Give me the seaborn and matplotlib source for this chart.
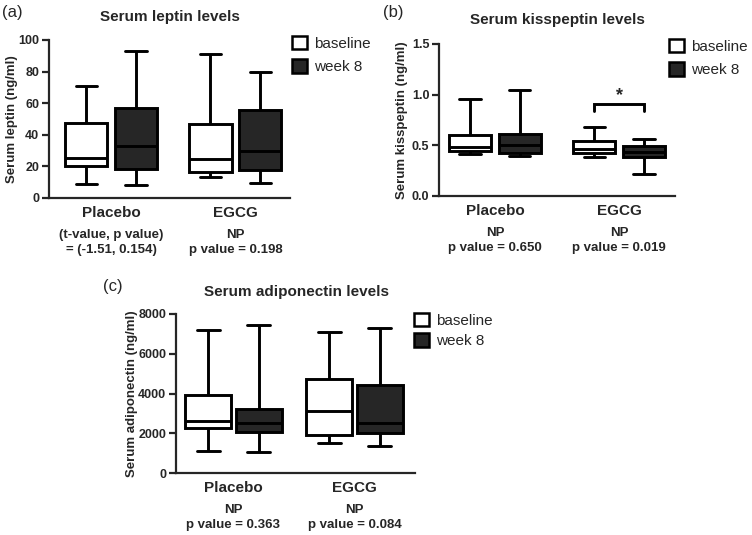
import numpy as np
import pandas as pd
import matplotlib
matplotlib.use("Agg")
import matplotlib.pyplot as plt
from matplotlib.patches import Patch
import seaborn as sns

# ---------------- data (five-number summaries: min, Q1, median, Q3, max) ----------------
groups = ["Placebo", "EGCG"]
times = ["baseline", "week 8"]

leptin_placebo_base = [9, 20, 25.5, 47.5, 71]
leptin_placebo_wk8 = [8, 18.5, 33, 57, 93]
leptin_egcg_base = [13, 16.5, 24.5, 47, 91]
leptin_egcg_wk8 = [9.5, 17.5, 30, 56, 80]

kiss_placebo_base = [0.41, 0.445, 0.48, 0.60, 0.96]
kiss_placebo_wk8 = [0.39, 0.42, 0.50, 0.61, 1.05]
kiss_egcg_base = [0.38, 0.42, 0.46, 0.54, 0.68]
kiss_egcg_wk8 = [0.22, 0.385, 0.43, 0.49, 0.56]

adipo_placebo_base = [1130, 2250, 2600, 3900, 7210]
adipo_placebo_wk8 = [1080, 2040, 2520, 3230, 7470]
adipo_egcg_base = [1500, 1920, 3130, 4750, 7100]
adipo_egcg_wk8 = [1380, 2030, 2540, 4420, 7290]

leptin_ticks = [0, 20, 40, 60, 80, 100]
kiss_ticks = [0.0, 0.5, 1.0, 1.5]
adipo_ticks = [0, 2000, 4000, 6000, 8000]

leptin_notes = [("(t-value, p value)", "= (-1.51, 0.154)"), ("NP", "p value = 0.198")]
kiss_notes = [("NP", "p value = 0.650"), ("NP", "p value = 0.019")]
adipo_notes = [("NP", "p value = 0.363"), ("NP", "p value = 0.084")]


def long_frame(pb, pw, eb, ew):
    rows = []
    for grp, tm, vals in [("Placebo", "baseline", pb), ("Placebo", "week 8", pw),
                          ("EGCG", "baseline", eb), ("EGCG", "week 8", ew)]:
        for v in vals:
            rows.append({"group": grp, "time": tm, "value": v})
    return pd.DataFrame(rows)


df_leptin = long_frame(leptin_placebo_base, leptin_placebo_wk8, leptin_egcg_base, leptin_egcg_wk8)
df_kiss = long_frame(kiss_placebo_base, kiss_placebo_wk8, kiss_egcg_base, kiss_egcg_wk8)
df_adipo = long_frame(adipo_placebo_base, adipo_placebo_wk8, adipo_egcg_base, adipo_egcg_wk8)

# ---------------- style ----------------
sns.set_style("ticks")
plt.rcParams["font.family"] = ["Liberation Sans", "DejaVu Sans"]
plt.rcParams["axes.linewidth"] = 1.6

W, H = 752, 535
fig = plt.figure(figsize=(W / 100, H / 100), dpi=100)

DARK = "#262626"
palette = {"baseline": "white", "week 8": DARK}
LW = 2.1


def px_axes(x0, x1, y0, y1):
    return fig.add_axes([x0 / W, 1 - y1 / H, (x1 - x0) / W, (y1 - y0) / H])


def draw_panel(ax, df, ticks, ylim, xlim, ylabel, ylabel_off, notes, width=0.8, gap=0.15, fmt=None):
    sns.boxplot(data=df, x="group", y="value", hue="time", order=groups, hue_order=times,
                palette=palette, linecolor="black", linewidth=LW, whis=(0, 100),
                width=width, gap=gap, fliersize=0, legend=False, ax=ax)
    ax.set_ylim(*ylim)
    ax.set_xlim(*xlim)
    ax.set_yticks(ticks)
    if fmt:
        ax.set_yticklabels([fmt.format(t) for t in ticks])
    sns.despine(ax=ax)
    ax.tick_params(axis="y", length=5, width=1.6, labelsize=9, pad=2)
    ax.tick_params(axis="x", length=0, labelsize=11, pad=6)
    for lab in ax.get_yticklabels() + ax.get_xticklabels():
        lab.set_fontweight("bold")
    ax.set_xlabel("")
    ax.set_ylabel(ylabel, fontsize=9.5, fontweight="bold")
    ax.yaxis.label.set_va("center")
    bb = ax.get_position()
    ax.yaxis.set_label_coords(-ylabel_off / (bb.width * W), 0.5)
    for i, (l1, l2) in enumerate(notes):
        ax.annotate(l1, xy=(i, 0), xycoords=("data", "axes fraction"), xytext=(0, -37 * 0.72),
                    textcoords="offset points", ha="center", va="center",
                    fontsize=9.5, fontweight="bold")
        ax.annotate(l2, xy=(i, 0), xycoords=("data", "axes fraction"), xytext=(0, -52 * 0.72),
                    textcoords="offset points", ha="center", va="center",
                    fontsize=9.5, fontweight="bold")


def panel_legend(x_left, y_top, spacing):
    handles = [Patch(facecolor=palette[t], edgecolor="black", linewidth=1.8, label=t) for t in times]
    fig.legend(handles=handles, loc="upper left", bbox_to_anchor=(x_left / W, 1 - y_top / H),
               frameon=False, fontsize=11, borderpad=0, borderaxespad=0,
               handlelength=0.98, handleheight=0.98, handletextpad=0.45, labelspacing=spacing)


# (a) leptin
ax_a = px_axes(49, 290, 40, 198)
draw_panel(ax_a, df_leptin, leptin_ticks, (0, 100), (-0.5, 1.44),
           "Serum leptin (ng/ml)", 37, leptin_notes)
fig.text(170 / W, 1 - 17 / H, "Serum leptin levels", ha="center", va="center",
         fontsize=11, fontweight="bold")
fig.text(2 / W, 1 - 12 / H, "(a)", ha="left", va="center", fontsize=12)
panel_legend(292, 36, 0.55)

# (b) kisspeptin
ax_b = px_axes(439, 675, 44, 196)
draw_panel(ax_b, df_kiss, kiss_ticks, (0, 1.5), (-0.45, 1.45),
           "Serum kisspeptin (ng/ml)", 37, kiss_notes, fmt="{:.1f}")
fig.text(557 / W, 1 - 20 / H, "Serum kisspeptin levels", ha="center", va="center",
         fontsize=11, fontweight="bold")
fig.text(383 / W, 1 - 12 / H, "(b)", ha="left", va="center", fontsize=12)
panel_legend(669, 39, 0.55)
# significance bracket between EGCG baseline and week 8
bx0, bx1 = 1 - 0.2, 1 + 0.2
ax_b.plot([bx0, bx0, bx1, bx1], [0.84, 0.905, 0.905, 0.84], color="black", lw=LW,
          clip_on=False, solid_joinstyle="miter")
ax_b.text(1, 0.905, "*", ha="center", va="bottom", fontsize=13, fontweight="bold")

# (c) adiponectin
ax_c = px_axes(176, 415, 314, 473)
draw_panel(ax_c, df_adipo, adipo_ticks, (0, 8000), (-0.475, 1.5),
           "Serum adiponectin (ng/ml)", 44, adipo_notes, width=0.84, gap=0.1)
fig.text(297 / W, 1 - 292 / H, "Serum adiponectin levels", ha="center", va="center",
         fontsize=11, fontweight="bold")
fig.text(103 / W, 1 - 287 / H, "(c)", ha="left", va="center", fontsize=12)
panel_legend(414, 313, 0.35)

fig.savefig("out.png", dpi=100, facecolor="white")
